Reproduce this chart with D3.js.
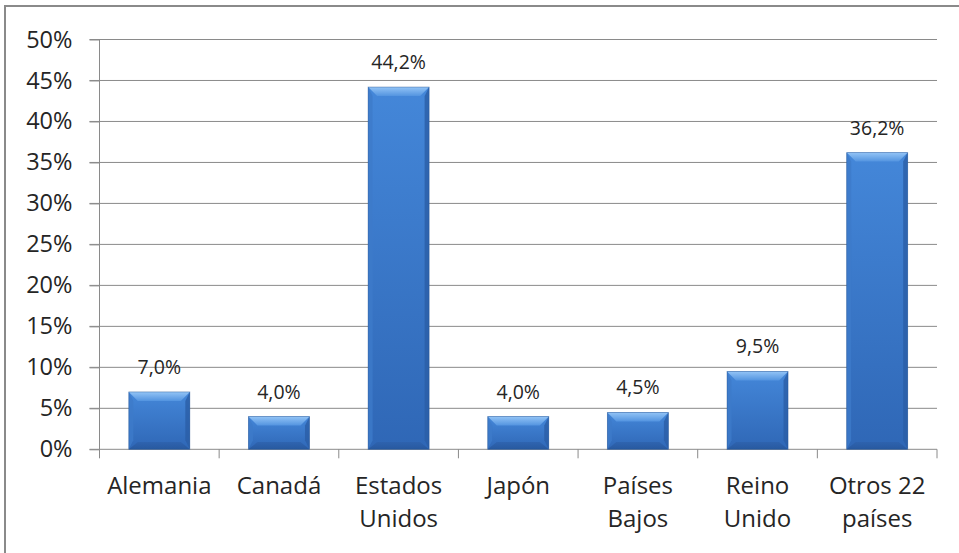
<!DOCTYPE html>
<html>
<head>
<meta charset="utf-8">
<script src="https://cdn.jsdelivr.net/npm/d3@7"></script>
<style>
  body { margin: 0; background: #fff; }
  text { font-family: "Open Sans", sans-serif; fill: #252525; }
</style>
</head>
<body>
<div id="chart"></div>
<script>
// data
const categories = ["Alemania", "Canadá", "Estados Unidos", "Japón", "Países Bajos", "Reino Unido", "Otros 22 países"]
const categoryLines = [["Alemania"], ["Canadá"], ["Estados", "Unidos"], ["Japón"], ["Países", "Bajos"], ["Reino", "Unido"], ["Otros 22", "países"]]
const shares = [7.0, 4.0, 44.2, 4.0, 4.5, 9.5, 36.2]
const yTicks = [0, 5, 10, 15, 20, 25, 30, 35, 40, 45, 50]

const WIDTH = 959
const HEIGHT = 553
const PLOT = {LEFT: 99.5, RIGHT: 937, TOP: 39.5, BOTTOM: 449.3}
const BEVEL = 9

const es = d3.formatLocale({decimal: ",", thousands: ".", grouping: [3], currency: ["", "€"]})
const fmtValue = d => es.format(".1f")(d) + "%"

const svg = d3.select("#chart")
  .append("svg")
  .attr("width", WIDTH)
  .attr("height", HEIGHT)

// frame (only left/top visible in picture)
svg.append("rect")
  .attr("x", 5).attr("y", 6)
  .attr("width", 1100).attr("height", 700)
  .attr("fill", "#fff")
  .attr("stroke", "#8a8a8a")
  .attr("stroke-width", 2)

// gradients
const defs = svg.append("defs")
function vGrad(id, stops) {
  const g = defs.append("linearGradient").attr("id", id)
    .attr("x1", 0).attr("y1", 0).attr("x2", 0).attr("y2", 1)
  stops.forEach(s => g.append("stop").attr("offset", s[0]).attr("stop-color", s[1]))
}
vGrad("body", [[0, "#4487d9"], [1, "#2f67b6"]])
vGrad("topBevel", [[0, "#93c4f6"], [1, "#5394e0"]])
vGrad("bottomBevel", [[0, "#2d60aa"], [1, "#255396"]])

// scales
const x = d3.scaleBand()
  .domain(categories)
  .range([PLOT.LEFT, PLOT.RIGHT])
  .paddingInner(0.49)
  .paddingOuter(0.245)

const y = d3.scaleLinear()
  .domain([0, 50])
  .range([PLOT.BOTTOM, PLOT.TOP])

// gridlines
svg.append("g")
  .selectAll("line")
  .data(yTicks)
  .enter().append("line")
  .attr("x1", PLOT.LEFT - 10)
  .attr("x2", PLOT.RIGHT)
  .attr("y1", d => y(d))
  .attr("y2", d => y(d))
  .attr("stroke", "#8a8a8a")
  .attr("stroke-width", 1)

// y axis
const yAxisCall = d3.axisLeft(y)
  .tickValues(yTicks)
  .tickSize(10)
  .tickPadding(17)
  .tickFormat(d => d + "%")

const yAxisGroup = svg.append("g")
  .attr("transform", `translate(${PLOT.LEFT}, 0)`)
  .call(yAxisCall)
yAxisGroup.select(".domain").attr("stroke", "#8a8a8a").attr("d", `M0,${PLOT.TOP}V${PLOT.BOTTOM}`)
yAxisGroup.selectAll(".tick line").attr("stroke", "#8a8a8a")
yAxisGroup.selectAll(".tick text")
  .attr("font-size", 23.5)
  .attr("dy", "0.32em")
  .attr("fill", "#252525")

// x axis: ticks on band boundaries
const step = x.step()
svg.append("g")
  .selectAll("line")
  .data(d3.range(categories.length + 1))
  .enter().append("line")
  .attr("x1", i => PLOT.LEFT + i * step)
  .attr("x2", i => PLOT.LEFT + i * step)
  .attr("y1", PLOT.BOTTOM)
  .attr("y2", PLOT.BOTTOM + 9)
  .attr("stroke", "#8a8a8a")

// x labels, two lines
const xLabels = svg.append("g")
  .selectAll("text")
  .data(categories)
  .enter().append("text")
  .attr("text-anchor", "middle")
  .attr("font-size", 24)
  .attr("transform", d => `translate(${x(d) + x.bandwidth() / 2}, 494.3)`)

xLabels.selectAll("tspan")
  .data((d, i) => categoryLines[i])
  .enter().append("tspan")
  .attr("x", 0)
  .attr("y", (d, i) => i * 33)
  .text(d => d)

// bars with bevel
const bars = svg.append("g")
  .selectAll("g")
  .data(shares)
  .enter().append("g")
  .attr("transform", (d, i) => `translate(${x(categories[i])}, ${y(d)})`)

const w = x.bandwidth()
const h = d => PLOT.BOTTOM - y(d)

bars.append("rect")
  .attr("width", w)
  .attr("height", h)
  .attr("fill", "url(#body)")

bars.append("path")
  .attr("d", d => `M0,0H${w}L${w - BEVEL},${BEVEL}H${BEVEL}Z`)
  .attr("fill", "url(#topBevel)")

bars.append("path")
  .attr("d", d => `M0,0L${BEVEL * 0.5},${BEVEL}V${h(d) - BEVEL}L0,${h(d)}Z`)
  .attr("fill", "#3d7ac9")
  .attr("opacity", 0.8)

bars.append("path")
  .attr("d", d => `M${w},0L${w - BEVEL * 0.5},${BEVEL}V${h(d) - BEVEL}L${w},${h(d)}Z`)
  .attr("fill", "#2b5ea6")
  .attr("opacity", 0.8)

bars.append("path")
  .attr("d", d => `M0,${h(d)}H${w}L${w - BEVEL},${h(d) - BEVEL * 0.8}H${BEVEL}Z`)
  .attr("fill", "url(#bottomBevel)")
  .attr("opacity", 0.7)

bars.append("rect")
  .attr("width", w)
  .attr("height", h)
  .attr("fill", "none")
  .attr("stroke", "#24518f")
  .attr("stroke-opacity", 0.5)
  .attr("stroke-width", 0.8)

// value labels
svg.append("g")
  .selectAll("text")
  .data(shares)
  .enter().append("text")
  .attr("x", (d, i) => x(categories[i]) + x.bandwidth() / 2)
  .attr("y", d => y(d) - 18)
  .attr("text-anchor", "middle")
  .attr("font-size", 19.5)
  .text(d => fmtValue(d))
</script>
</body>
</html>
